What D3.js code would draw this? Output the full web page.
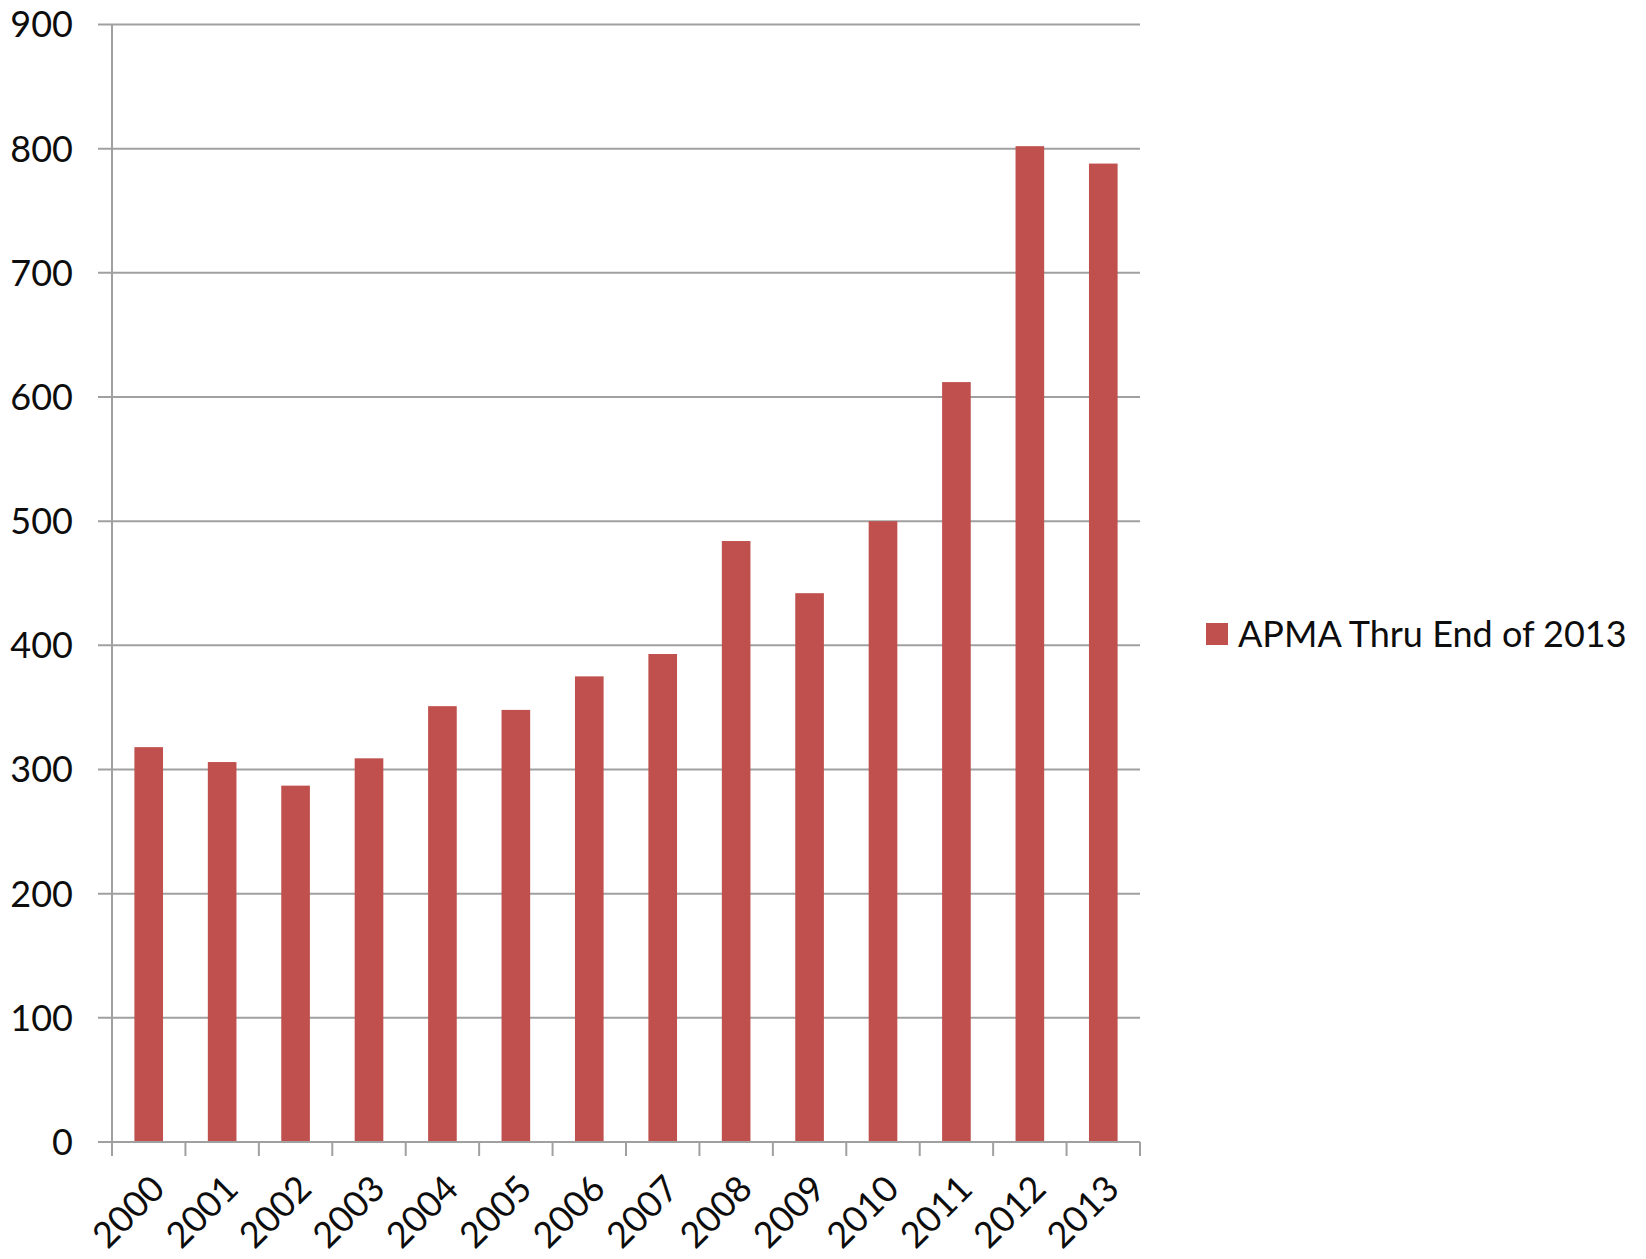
<!DOCTYPE html>
<html>
<head>
<meta charset="utf-8">
<script src="https://cdn.jsdelivr.net/npm/d3@7"></script>
<style>
  html, body { margin: 0; padding: 0; background: #ffffff; }
  svg { display: block; }
  text { font-family: Lato, "Open Sans", sans-serif; fill: #0d0d0d; }
</style>
</head>
<body>
<svg id="chart" width="1646" height="1259"></svg>
<script>
// Yearly APMA counts, 2000–2013
const years = ["2000", "2001", "2002", "2003", "2004", "2005", "2006",
               "2007", "2008", "2009", "2010", "2011", "2012", "2013"];
const apmaCounts = [318, 306, 287, 309, 351, 348, 375, 393, 484, 442, 500, 612, 802, 788];
const yTicks = [0, 100, 200, 300, 400, 500, 600, 700, 800, 900];
const seriesName = "APMA Thru End of 2013";

const W = 1646, H = 1259;
const plot = { left: 112, right: 1140, top: 24.5, bottom: 1142 };
const barColor = "#c0504d";
const gridColor = "#a0a0a0";

const svg = d3.select("#chart");

const x = d3.scaleBand()
  .domain(years)
  .range([plot.left, plot.right])
  .paddingInner(0.61)
  .paddingOuter(0.305);

const y = d3.scaleLinear()
  .domain([0, 900])
  .range([plot.bottom, plot.top]);

// Horizontal gridlines with short outside ticks
svg.append("g")
  .selectAll("line")
  .data(yTicks)
  .join("line")
  .attr("x1", plot.left - 14)
  .attr("x2", plot.right)
  .attr("y1", d => y(d))
  .attr("y2", d => y(d))
  .attr("stroke", gridColor)
  .attr("stroke-width", 2);

// Y axis line
svg.append("line")
  .attr("x1", plot.left).attr("x2", plot.left)
  .attr("y1", y(900)).attr("y2", plot.bottom)
  .attr("stroke", gridColor).attr("stroke-width", 2);

// Y tick labels
svg.append("g")
  .selectAll("text")
  .data(yTicks)
  .join("text")
  .attr("x", 73)
  .attr("y", d => y(d))
  .attr("dy", "0.36em")
  .attr("text-anchor", "end")
  .style("font-size", "36px")
  .text(d => d);

// Bars
svg.append("g")
  .selectAll("rect")
  .data(years.map((yr, i) => ({ yr, v: apmaCounts[i] })))
  .join("rect")
  .attr("x", d => x(d.yr))
  .attr("width", x.bandwidth())
  .attr("y", d => y(d.v))
  .attr("height", d => y(0) - y(d.v))
  .attr("fill", barColor);

// X axis line and category boundary ticks
const step = x.step();
svg.append("line")
  .attr("x1", plot.left).attr("x2", plot.right)
  .attr("y1", plot.bottom).attr("y2", plot.bottom)
  .attr("stroke", gridColor).attr("stroke-width", 2);

svg.append("g")
  .selectAll("line")
  .data(d3.range(years.length + 1))
  .join("line")
  .attr("x1", i => plot.left + i * step)
  .attr("x2", i => plot.left + i * step)
  .attr("y1", plot.bottom)
  .attr("y2", plot.bottom + 14)
  .attr("stroke", gridColor)
  .attr("stroke-width", 2);

// Rotated year labels
svg.append("g")
  .selectAll("text")
  .data(years)
  .join("text")
  .attr("transform", d => `translate(${x(d) + x.bandwidth() / 2},${plot.bottom + 31}) rotate(-45)`)
  .attr("text-anchor", "end")
  .attr("dy", "0.71em")
  .style("font-size", "36px")
  .text(d => d);

// Legend
const legend = svg.append("g").attr("transform", "translate(1206,623)");
legend.append("rect")
  .attr("width", 22).attr("height", 22)
  .attr("fill", barColor);
legend.append("text")
  .attr("x", 32)
  .attr("y", 24)
  .style("font-size", "36px")
  .text(seriesName);
</script>
</body>
</html>
